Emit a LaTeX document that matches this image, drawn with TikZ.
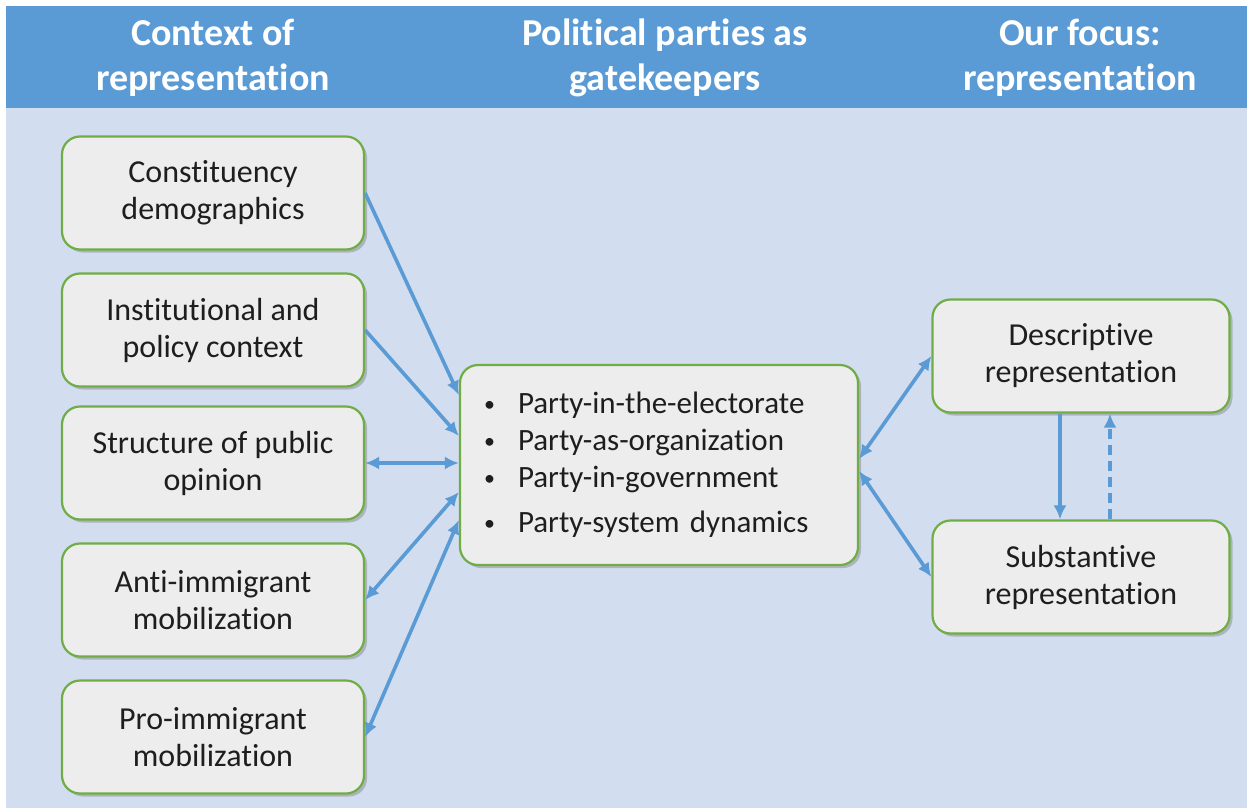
\documentclass[tikz,border=0pt]{standalone}
\usepackage{fontspec}
\setmainfont[Ligatures=NoCommon]{Carlito}
\usepackage{tikz}
\usetikzlibrary{calc, arrows.meta, shadows}

\definecolor{headblue}{RGB}{91,155,213}
\definecolor{backblue}{RGB}{210,222,239}
\definecolor{boxgray}{RGB}{237,237,237}
\definecolor{boxgreen}{RGB}{112,173,71}
\definecolor{arrowblue}{RGB}{91,155,213}
\definecolor{txtgray}{RGB}{30,30,30}

\tikzset{
    headtxt/.style={text=white, font=\fontsize{38}{45}\selectfont\bfseries, align=center},
    ctxbox/.style={draw=boxgreen, line width=2.2pt, fill=boxgray, rounded corners=18pt,
        minimum width=302pt, minimum height=113pt, align=center, text=txtgray,
        font=\fontsize{32}{37}\selectfont,
        drop shadow={shadow xshift=3pt, shadow yshift=-3pt, opacity=0.45, fill=gray}},
    repbox/.style={ctxbox, minimum width=297pt},
    partybox/.style={ctxbox, minimum width=398pt, minimum height=200pt, text width=350pt, align=left,
        font=\fontsize{31}{37}\selectfont},
    link/.style={draw=arrowblue, line width=3.6pt, {Latex[length=14pt,width=13pt]}-{Latex[length=14pt,width=13pt]}},
    onelink/.style={draw=arrowblue, line width=3.6pt, -{Latex[length=14pt,width=13pt]}},
}

\newcommand{\bul}{\makebox[34pt][l]{\raisebox{2pt}{\fontsize{22}{22}\selectfont\textbullet}}}

\begin{document}
\begin{tikzpicture}[x=1pt, y=-1pt]
    \useasboundingbox (0,0) rectangle (1247,808);

    % background
    \fill[headblue] (6,6) rectangle (1247,108);
    \fill[backblue] (6,108) rectangle (1247,808);

    \node[headtxt] (h1) at (213,58) {Context of\\representation};
    \node[headtxt] (h2) at (665,58) {Political parties as\\gatekeepers};
    \node[headtxt] (h3) at (1080,58) {Our focus:\\representation};

    % context boxes
    \node[ctxbox] (ctx1) at (213,193) {Constituency\\demographics};
    \node[ctxbox] (ctx2) at (213,330) {Institutional and\\policy context};
    \node[ctxbox] (ctx3) at (213,463) {Structure of public\\opinion};
    \node[ctxbox] (ctx4) at (213,600) {Anti-immigrant\\mobilization};
    \node[ctxbox] (ctx5) at (213,737) {Pro-immigrant\\mobilization};

    % parties
    \node[partybox] (party) at (659,465) {%
        \bul Party-in-the-electorate\\
        \bul Party-as-organization\\
        \bul Party-in-government\\[8pt]
        \bul Party-system dynamics};

    % representation
    \node[repbox] (desc) at (1081,356) {Descriptive\\representation};
    \node[repbox] (subst) at (1081,577) {Substantive\\representation};

    % connectors
    \draw[onelink] (ctx1.east) -- ($(party.west)+(0,-70)$);
    \draw[onelink] (ctx2.east) -- ($(party.west)+(0,-29)$);
    \draw[link] (ctx3.east) -- (ctx3.east -| party.west);
    \draw[link] (ctx4.east) -- ($(party.west)+(0,27)$);
    \draw[link] (ctx5.east) -- ($(party.west)+(0,55)$);

    \draw[link] ($(party.east)+(0,-6)$) -- (desc.west);
    \draw[link] ($(party.east)+(0,6)$) -- (subst.west);

    \draw[onelink] ($(desc.south)+(-21,0)$) -- ($(subst.north)+(-21,0)$);
    \draw[onelink, dash pattern=on 10pt off 6pt] ($(subst.north)+(29,0)$) -- ($(desc.south)+(29,0)$);
\end{tikzpicture}
\end{document}
